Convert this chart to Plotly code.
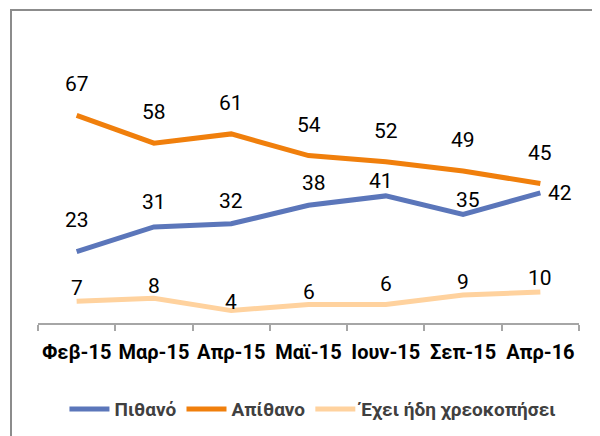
import plotly.graph_objects as go

months      = ["Φεβ-15", "Μαρ-15", "Απρ-15", "Μαϊ-15", "Ιουν-15", "Σεπ-15", "Απρ-16"]
likely      = [23, 31, 32, 38, 41, 35, 42]
unlikely    = [67, 58, 61, 54, 52, 49, 45]
defaulted   = [7, 8, 4, 6, 6, 9, 10]

names       = ["Πιθανό", "Απίθανο", "Έχει ήδη χρεοκοπήσει"]
colors      = ["#5B76BA", "#F07F0C", "#FFD29E"]

# label offsets in pixels (dx, dy) per point, as the labels were placed by hand
shifts = [
    [(0, 32), (0, 25), (0, 23), (5, 22), (-5, 15), (5, 15), (None, 0)],
    [(0, 31)] * 7,
    [(0, 13), (0, 12), (0, 9), (0, 12), (0, 20), (0, 13), (0, 14)],
]

FONT = "Roboto"

fig = go.Figure()

for name, values, color in zip(names, [likely, unlikely, defaulted], colors):

    fig.add_trace(
        go.Scatter(
            x       = months,
            y       = values,
            name    = name,
            mode    = "lines",
            line    = dict(color = color, width = 5),
            hoverinfo = "skip"
        )
    )

annotations = []

for values, sh in zip([likely, unlikely, defaulted], shifts):

    for m, v, (dx, dy) in zip(months, values, sh):

        if dx is None:
            annotations.append(dict(
                x = m, y = v, text = str(v), showarrow = False,
                xanchor = "left", yanchor = "middle", xshift = 6,
                font = dict(family = FONT, size = 21, color = "#000000")
            ))
        else:
            annotations.append(dict(
                x = m, y = v, text = str(v), showarrow = False,
                xanchor = "center", yanchor = "middle", xshift = dx, yshift = dy,
                font = dict(family = FONT, size = 21, color = "#000000")
            ))

# the page body adds 8px around the figure, so the figure is 8px smaller
fig.update_layout(
    width           = 592,
    height          = 428,
    margin          = dict(l = 30, r = 21, t = 67, b = 113, autoexpand = False),
    paper_bgcolor   = "white",
    plot_bgcolor    = "white",
    showlegend      = True,
    annotations     = annotations,
    legend          = dict(
        orientation = "h",
        x           = 0.511,
        xanchor     = "center",
        y           = -0.347,
        yanchor     = "middle",
        font        = dict(family = FONT, size = 19, color = "#404040", weight = "bold"),
        itemwidth   = 40,
        bgcolor     = "rgba(0,0,0,0)"
    ),
    xaxis           = dict(
        type        = "category",
        range       = [-0.5, 6.5],
        automargin  = False,
        tickangle   = 0,
        showline    = True,
        linecolor   = "#A6A6A6",
        linewidth   = 2,
        ticks       = "outside",
        tickson     = "boundaries",
        ticklen     = 6,
        tickcolor   = "#A6A6A6",
        tickwidth   = 2,
        ticklabelstandoff = 10,
        showgrid    = False,
        tickfont    = dict(family = FONT, size = 20, color = "#000000", weight = "bold")
    ),
    yaxis           = dict(
        range           = [0, 80],
        automargin      = False,
        showticklabels  = False,
        showgrid        = False,
        zeroline        = False,
        showline        = False,
        ticks           = ""
    ),
    shapes          = [
        dict(
            type = "rect", xref = "paper", yref = "paper",
            x0 = -0.0499, x1 = 1.0296, y0 = -0.5, y1 = 1.262,
            line = dict(color = "#8C8C8C", width = 2),
            fillcolor = "rgba(0,0,0,0)", layer = "below"
        )
    ]
)

fig.write_html("out.html")
